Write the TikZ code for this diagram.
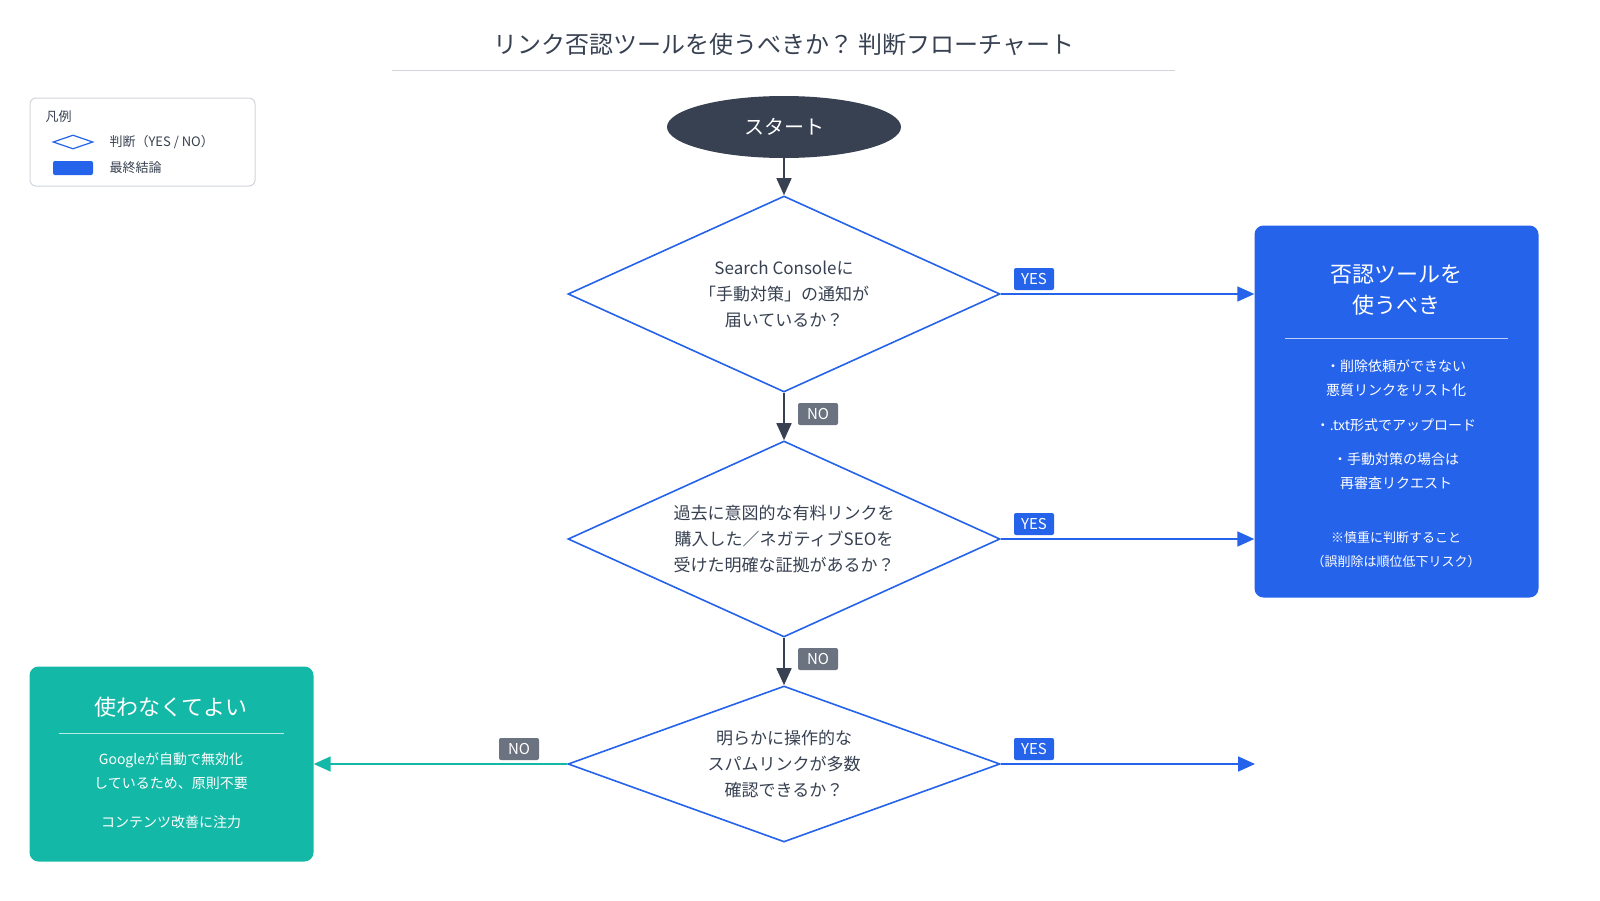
\documentclass[tikz,border=0pt]{standalone}
\usepackage{fontspec}
\setmainfont{Noto Sans CJK JP}
\usepackage{tikz}
\usetikzlibrary{shapes.geometric,arrows.meta,positioning}
\definecolor{mblue}{HTML}{2563EB}
\definecolor{mdark}{HTML}{374151}
\definecolor{mgray}{HTML}{6B7280}
\definecolor{mteal}{HTML}{14B8A6}
\definecolor{mline}{HTML}{D1D5DB}
\tikzset{
  judge/.style={diamond,draw=mblue,line width=1.6pt,fill=white,aspect=2.2,inner sep=0pt,
    minimum width=432pt,minimum height=196pt,align=center,font=\fontsize{17}{26}\selectfont,text=mdark},
  tag/.style={fill=#1,text=white,rounded corners=2pt,inner sep=3pt,minimum width=40pt,minimum height=22pt,font=\fontsize{15}{15}\selectfont},
  flow/.style={-{Triangle[length=17pt,width=15pt]},line width=1.6pt,draw=#1,fill=#1},
  small/.style={white,align=center,font=\fontsize{14}{24}\selectfont},
}
\begin{document}
\begin{tikzpicture}[x=1pt,y=-1pt]
\useasboundingbox (0,0) rectangle (1600,900);
\def\cx{784};
% title %
\node[font=\fontsize{24}{24}\selectfont,text=mdark] (title) at (\cx,44) {リンク否認ツールを使うべきか？ 判断フローチャート};
\draw[mline,line width=1pt] (392,70) -- (1175,70);
% legend %
\draw[mline,line width=1pt,fill=white,rounded corners=6pt] (30,98) rectangle (255,186);
\node[anchor=west,font=\fontsize{13}{13}\selectfont,text=mdark] (leg) at (42,117) {凡例};
\node[diamond,draw=mblue,line width=1.2pt,aspect=3,minimum width=40pt,minimum height=14pt,inner sep=0pt] (legd) at (73,142) {};
\node[anchor=west,font=\fontsize{13}{13}\selectfont,text=mdark] (legdt) at (106,142) {判断（YES / NO）};
\node[fill=mblue,rounded corners=2pt,minimum width=40pt,minimum height=14pt,inner sep=0pt] (legr) at (73,168) {};
\node[anchor=west,font=\fontsize{13}{13}\selectfont,text=mdark] (legrt) at (106,168) {最終結論};
% flow %
\node[ellipse,fill=mdark,minimum width=234pt,minimum height=62pt,text=white,font=\fontsize{20}{20}\selectfont] (start) at (\cx,127) {スタート};
\node[judge] (q1) at (\cx,294) {Search Consoleに\\「手動対策」の通知が\\届いているか？};
\node[judge] (q2) at (\cx,539) {過去に意図的な有料リンクを\\購入した／ネガティブSEOを\\受けた明確な証拠があるか？};
\node[judge,minimum height=156pt,aspect=2.77] (q3) at (\cx,764) {明らかに操作的な\\スパムリンクが多数\\確認できるか？};
% results %
\node[fill=mblue,rounded corners=9pt,minimum width=284pt,minimum height=372pt] (yes) at (1396.5,411.5) {};
\node[white,align=center,font=\fontsize{22}{31}\selectfont] (yest) at (1396,290) {否認ツールを\\使うべき};
\draw[white!70!mblue,line width=1pt] (1285,338) -- (1508,338);
\node[small] (yes1) at (1396,378) {・削除依頼ができない\\悪質リンクをリスト化};
\node[small] (yes2) at (1396,425) {・.txt形式でアップロード};
\node[small] (yes3) at (1396,471) {・手動対策の場合は\\再審査リクエスト};
\node[small,font=\fontsize{13}{24}\selectfont] (yes4) at (1396,550) {※慎重に判断すること\\（誤削除は順位低下リスク）};
\node[fill=mteal,rounded corners=9pt,minimum width=284pt,minimum height=195pt] (no) at (171.5,764) {};
\node[white,font=\fontsize{22}{22}\selectfont] (not) at (171,707) {使わなくてよい};
\draw[white!70!mteal,line width=1pt] (59,733) -- (284,733);
\node[small] (no1) at (171,771) {Googleが自動で無効化\\しているため、原則不要};
\node[small] (no2) at (171,822) {コンテンツ改善に注力};
\coordinate (end3) at (1255,764);
% connectors %
\draw[flow=mdark] (start) -- (q1);
\draw[flow=mdark] (q1) -- (q2);
\draw[flow=mdark] (q2) -- (q3);
\draw[flow=mblue] (q1.east) -- (q1.east -| yes.west);
\draw[flow=mblue] (q2.east) -- (q2.east -| yes.west);
\draw[flow=mblue] (q3.east) -- (end3);
\draw[flow=mteal] (q3.west) -- (no.east);
% tags %
\node[tag=mblue] (y1) at (1034,279) {YES};
\node[tag=mblue] (y2) at (1034,524) {YES};
\node[tag=mblue] (y3) at (1034,749) {YES};
\node[tag=mgray] (n1) at (818,414) {NO};
\node[tag=mgray] (n2) at (818,659) {NO};
\node[tag=mgray] (n3) at (519,749) {NO};
\end{tikzpicture}
\end{document}
